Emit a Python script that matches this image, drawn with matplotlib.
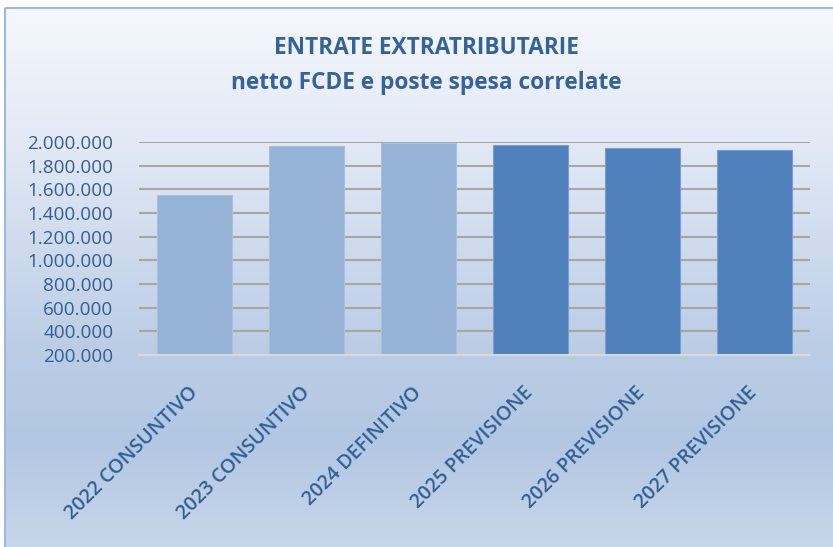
import numpy as np
import matplotlib
matplotlib.use('Agg')
import matplotlib.pyplot as plt
from matplotlib.colors import LinearSegmentedColormap
from matplotlib.patches import Rectangle
from matplotlib.ticker import FuncFormatter

# data
categories = ['2022 CONSUNTIVO', '2023 CONSUNTIVO', '2024 DEFINITIVO',
              '2025 PREVISIONE', '2026 PREVISIONE', '2027 PREVISIONE']
values = [1552000, 1966000, 1994000, 1972000, 1947000, 1930000]
is_forecast = [False, False, False, True, True, True]
title_lines = ['ENTRATE EXTRATRIBUTARIE', 'netto FCDE e poste spesa correlate']

plt.rcParams['font.family'] = ['Open Sans', 'DejaVu Sans']

W, H, DPI = 833, 547, 100
fig = plt.figure(figsize=(W / DPI, H / DPI), dpi=DPI)
fig.patch.set_facecolor('white')

# gradient background inside the chart frame
bg = fig.add_axes([0, 0, 1, 1], zorder=0)
bg.set_xlim(0, W)
bg.set_ylim(H, 0)
bg.axis('off')
grad = LinearSegmentedColormap.from_list('bg', [
    (0.0, '#F5F8FD'),
    (0.25, '#E2E9F5'),
    (0.62, '#BCCEE6'),
    (0.80, '#B2C7E3'),
    (1.0, '#C7D7EA'),
])
g = np.linspace(0, 1, 256).reshape(-1, 1)
bg.imshow(g, cmap=grad, aspect='auto', extent=[5, W + 2, H + 2, 8], zorder=0)
bg.add_patch(Rectangle((5, 8), W, H, fill=False, edgecolor='#9DB9DC', linewidth=1.5, zorder=1))

title_color = '#36629A'
bg.text(426, 48, title_lines[0], ha='center', va='center', fontsize=16.3,
        fontweight='bold', color=title_color)
bg.text(426, 83, title_lines[1], ha='center', va='center', fontsize=16.3,
        fontweight='bold', color=title_color)

# main plot area
ax = fig.add_axes([139 / W, 1 - 355 / H, (810 - 139) / W, (355 - 142) / H], zorder=2)
ax.set_facecolor('none')

x = np.arange(len(categories))
colors = ['#4F81BD' if f else '#95B3D7' for f in is_forecast]
edges = ['#7A9FCF' if f else '#A9C1DF' for f in is_forecast]
ax.bar(x, [v - 200000 for v in values], bottom=200000, width=0.67,
       color=colors, edgecolor=edges, linewidth=0.8, zorder=3)

ax.set_xlim(-0.5, len(categories) - 0.5)
ax.set_ylim(200000, 2000000)
ax.set_yticks(np.arange(200000, 2000001, 200000))
ax.yaxis.set_major_formatter(FuncFormatter(lambda v, p: f'{int(v):,}'.replace(',', '.')))

for yv in np.arange(400000, 2000001, 200000):
    ax.axhline(yv, color='#A6A6A6', linewidth=1.5, zorder=1)

for s in ['top', 'right', 'left']:
    ax.spines[s].set_visible(False)
ax.spines['bottom'].set_color('#D9D9D9')
ax.spines['bottom'].set_linewidth(1.5)
ax.spines['bottom'].set_zorder(4)

tick_color = '#335F93'
ax.tick_params(axis='y', length=0, pad=18.5, labelsize=13.6, labelcolor=tick_color)
ax.tick_params(axis='x', length=0, pad=25, labelsize=14.2, labelcolor=tick_color)
ax.set_xticks(x)
ax.set_xticklabels(categories, rotation=45, ha='right', va='center',
                   rotation_mode='anchor', fontweight='semibold')

fig.savefig('out.png', dpi=DPI)
